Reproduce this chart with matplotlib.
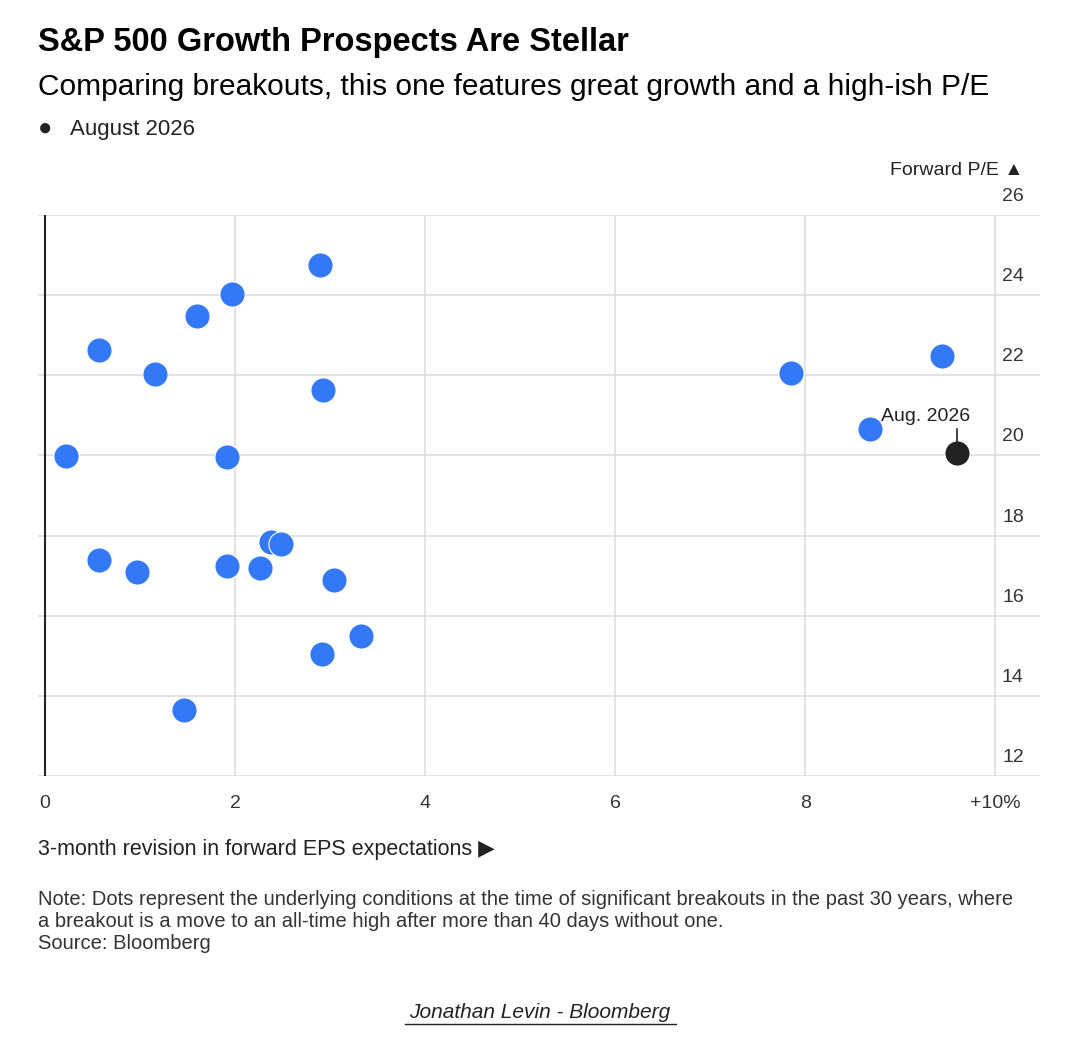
import matplotlib.pyplot as plt

eps_rev = [2.89, 1.97, 1.60, 0.57, 1.16, 2.93, 0.22, 1.91, 2.38, 2.48, 0.57, 0.97,
           1.91, 2.26, 3.04, 3.33, 2.91, 1.46, 7.85, 9.44, 8.68]
fwd_pe = [24.75, 24.03, 23.48, 22.63, 22.03, 21.63, 19.98, 19.95, 17.85, 17.80, 17.40, 17.08,
          17.23, 17.20, 16.88, 15.50, 15.05, 13.65, 22.05, 22.48, 20.65]
now_x, now_y = 9.6, 20.05
x_ticks = [0, 2, 4, 6, 8, 10]
x_labels = ['0', '2', '4', '6', '8', '+10%']
y_ticks = [12, 14, 16, 18, 20, 22, 24, 26]

plt.rcParams['font.family'] = ['Liberation Sans', 'DejaVu Sans']
fig = plt.figure(figsize=(10.84, 10.42), dpi=100)
ax = fig.add_axes([38/1084, 266/1042, 1002/1084, 561/1042])
ax.set_xlim(-0.074, 10.47)
ax.set_ylim(12, 26)

for t in y_ticks:
    ax.axhline(t, color='#dddddd', lw=1.2, zorder=0)
    ax.text(10.3, t + 0.25, str(t), ha='right', va='bottom', fontsize=14, color='#333333')
for t in x_ticks[1:]:
    ax.axvline(t, color='#dddddd', lw=1.2, zorder=0)
ax.axvline(0, color='#222222', lw=1.5, zorder=1)
for s in ax.spines.values():
    s.set_visible(False)
ax.set_xticks(x_ticks)
ax.set_xticklabels(x_labels, fontsize=14, color='#333333')
ax.tick_params(axis='x', length=0, pad=14)
ax.set_yticks([])

ax.scatter(eps_rev, fwd_pe, s=330, color='#3378f6', edgecolor='white', lw=0.8, zorder=3)
ax.scatter([now_x], [now_y], s=330, color='#222222', edgecolor='white', lw=0.8, zorder=4)
ax.plot([now_x, now_x], [now_y, now_y + 0.6], color='#222222', lw=1.2, zorder=4)
ax.text(now_x - 0.8, now_y + 0.7, 'Aug. 2026', fontsize=14, color='#222222', va='bottom')
ax.text(10.3, 26.9, 'Forward P/E ▲', ha='right', va='bottom', fontsize=14, color='#222222')

fig.text(38/1084, 1 - 42/1042, 'S&P 500 Growth Prospects Are Stellar', fontsize=23.5,
         fontweight='bold', va='center')
fig.text(38/1084, 1 - 87/1042, 'Comparing breakouts, this one features great growth and a high-ish P/E',
         fontsize=21.5, va='center')
fig.text(38/1084, 1 - 129/1042, '●', fontsize=17, va='center', color='#222222')
fig.text(70/1084, 1 - 129/1042, 'August 2026', fontsize=16, va='center', color='#222222')
fig.text(38/1084, 1 - 849/1042, '3-month revision in forward EPS expectations ▶', fontsize=15.5,
         va='center', color='#222222')
fig.text(38/1084, 1 - 890/1042,
         'Note: Dots represent the underlying conditions at the time of significant breakouts in the past 30 years, where\n'
         'a breakout is a move to an all-time high after more than 40 days without one.\nSource: Bloomberg',
         fontsize=14.5, va='top', color='#333333', linespacing=1.2)
fig.text(540/1084, 1 - 1012/1042, 'Jonathan Levin - Bloomberg', fontsize=15, style='italic',
         ha='center', va='center', color='#222222')
fig.lines.append(plt.Line2D([405/1084, 676/1084], [1 - 1024/1042] * 2, color='#222222', lw=1,
                            transform=fig.transFigure))
fig.savefig('out.png', dpi=100, facecolor='white')
